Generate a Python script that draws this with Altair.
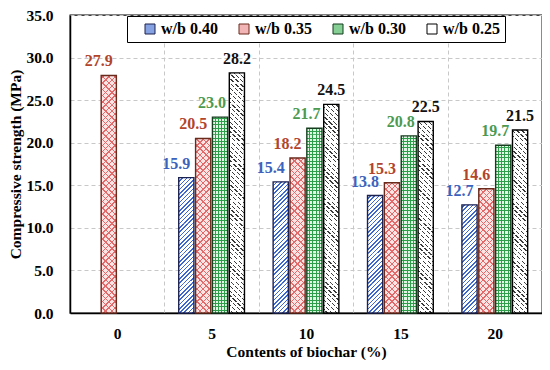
import altair as alt
import pandas as pd
import math

# ---------------- data ----------------
cats = ["0", "5", "10", "15", "20"]
series = ["w/b 0.40", "w/b 0.35", "w/b 0.30", "w/b 0.25"]
v040 = [None, 15.9, 15.4, 13.8, 12.7]
v035 = [27.9, 20.5, 18.2, 15.3, 14.6]
v030 = [None, 23.0, 21.7, 20.8, 19.7]
v025 = [None, 28.2, 24.5, 22.5, 21.5]

rows = []
for s, vals in zip(series, [v040, v035, v030, v025]):
    for c, v in zip(cats, vals):
        if v is not None:
            rows.append({"cat": c, "series": s, "value": v})
df = pd.DataFrame(rows)

# ---------------- approximate plot geometry (for the hatch fills only) ----------------
TOTAL_W, TOTAL_H = 534, 352
W_PLOT, H_PLOT = 470, 297
YMAX = 35
PI, PO = 0.1, 0.85
band = W_PLOT / len(cats)
step = band / (len(series) - PI + 2 * PO)
BAR_W = step * (1 - PI)
SEG = 3.5  # value units per hatch segment (keeps gradients short)

# split each bar into short pieces, each gets its own hatch gradient
seg_rows = []
sid = 0
for r in rows:
    lo = 0.0
    while lo < r["value"] - 1e-9:
        hi = min(lo + SEG, r["value"])
        seg_rows.append({"cat": r["cat"], "series": r["series"], "lo": lo, "hi": hi, "sid": sid})
        sid += 1
        lo = hi
seg_df = pd.DataFrame(seg_rows)

FONT = "Liberation Serif"

line_col = {"w/b 0.40": "#3b67cf", "w/b 0.35": "#e26a6a", "w/b 0.30": "#2f9e4a", "w/b 0.25": "#3a3a3a"}
bg_col = {"w/b 0.40": "#ffffff", "w/b 0.35": "#fde4e4", "w/b 0.30": "#e2f6e6", "w/b 0.25": "#ffffff"}
border_col = ["#1c2250", "#6a2a1c", "#153d1e", "#000000"]
legend_fill = ["#86a2e2", "#f2b4b4", "#86cf94", "#ffffff"]
label_col = {"w/b 0.40": "#3b63bd", "w/b 0.35": "#b2442c", "w/b 0.30": "#4c9a50", "w/b 0.25": "#111111"}
label_dx = {"w/b 0.40": -10, "w/b 0.35": -10, "w/b 0.30": -8, "w/b 0.25": 0}
CLEAR = "rgba(255,255,255,0)"


def make_stops(total, starts, lw, line, bg):
    stops = [{"offset": 0, "color": bg}]
    for s in starts:
        a, b = max(s, 0.0), min(s + lw, total)
        if b <= a:
            continue
        a, b = a / total, b / total
        stops += [{"offset": a, "color": bg}, {"offset": a, "color": line},
                  {"offset": b, "color": line}, {"offset": b, "color": bg}]
    stops.append({"offset": 1, "color": bg})
    return stops


def line_starts(total, period, y0):
    k = math.floor(y0 / period)
    s = k * period - y0
    out = []
    while s < total:
        out.append(s)
        s += period
    return out


def diag(hs, y0, direction, period, lw, line, bg):
    w = BAR_W
    d = w * w + hs * hs
    x2 = (w + hs) * w / d
    y2 = (w + hs) * hs / d
    total = w + hs
    pd_, ld = period * math.sqrt(2), lw * math.sqrt(2)
    stops = make_stops(total, line_starts(total, pd_, y0), ld, line, bg)
    if direction == "/":
        return {"gradient": "linear", "x1": 0, "y1": 0, "x2": x2, "y2": y2, "stops": stops}
    return {"gradient": "linear", "x1": 1, "y1": 0, "x2": 1 - x2, "y2": y2, "stops": stops}


def vert(period, lw, line, bg):
    return {"gradient": "linear", "x1": 0, "y1": 0, "x2": 1, "y2": 0,
            "stops": make_stops(BAR_W, line_starts(BAR_W, period, 1.2), lw, line, bg)}


def horiz(hs, y0, period, lw, line, bg):
    return {"gradient": "linear", "x1": 0, "y1": 0, "x2": 0, "y2": 1,
            "stops": make_stops(hs, line_starts(hs, period, y0), lw, line, bg)}


def hatch_layers_for(s):
    L = line_col[s]
    if s == "w/b 0.40":
        return [lambda hs, y0: diag(hs, y0, "/", 3.0, 1.1, L, CLEAR)]
    if s == "w/b 0.35":
        return [lambda hs, y0: diag(hs, y0, "/", 4.4, 1.0, L, CLEAR),
                lambda hs, y0: diag(hs, y0, "\\", 4.4, 1.0, L, CLEAR)]
    if s == "w/b 0.30":
        return [lambda hs, y0: vert(3.3, 1.0, L, CLEAR),
                lambda hs, y0: horiz(hs, y0, 3.3, 1.0, L, CLEAR)]
    return [lambda hs, y0: diag(hs, y0, "\\", 3.4, 0.9, L, CLEAR),
            lambda hs, y0: horiz(hs, y0, 4.2, 1.1, "#ffffff", CLEAR)]


# ---------------- encodings ----------------
x_enc = alt.X("cat:N", sort=cats,
              scale=alt.Scale(domain=cats, paddingInner=0, paddingOuter=0),
              axis=alt.Axis(title="Contents of biochar (%)", labelAngle=0, tickBand="extent",
                            grid=True, gridDash=[4, 3], gridColor="#c8c8c8", ticks=False,
                            labelPadding=13, titlePadding=3))
xo_enc = alt.XOffset("series:N", sort=series,
                     scale=alt.Scale(domain=series, paddingInner=PI, paddingOuter=PO))
y_enc = alt.Y("value:Q", scale=alt.Scale(domain=[0, YMAX]),
              axis=alt.Axis(title="Compressive strength (MPa)", values=list(range(0, 36, 5)),
                            format=".1f", grid=True, gridDash=[4, 3], gridColor="#c8c8c8",
                            ticks=False, labelPadding=17, titlePadding=2))
ylo = alt.Y("lo:Q", scale=alt.Scale(domain=[0, YMAX]))
yhi = alt.Y2("hi:Q")

base = alt.Chart(df)
segs = alt.Chart(seg_df)

layers = [
    # legend carrier
    base.mark_bar().encode(
        x=x_enc, xOffset=xo_enc, y=y_enc,
        fill=alt.Fill("series:N", sort=series,
                      scale=alt.Scale(domain=series, range=legend_fill),
                      legend=alt.Legend(title=None, orient="none", direction="horizontal",
                                        legendX=57, legendY=1, symbolType="square",
                                        symbolSize=100, symbolStrokeColor="#000000",
                                        symbolStrokeWidth=1, symbolOffset=10,
                                        labelFont=FONT, labelFontSize=16,
                                        labelFontWeight="bold", labelColor="#000000",
                                        columnPadding=8, labelOffset=3, padding=5,
                                        strokeColor="#000000", fillColor="#ffffff",
                                        labelLimit=200))
    )
]

# background colour of every bar
for s in series:
    layers.append(
        base.transform_filter(f"datum.series == '{s}'").mark_bar(fill=bg_col[s]).encode(
            x=x_enc, xOffset=xo_enc, y=y_enc)
    )

for s in series:
    sub = [sr for sr in seg_rows if sr["series"] == s]
    for fn in hatch_layers_for(s):
        conds = []
        for sr in sub:
            hs = (sr["hi"] - sr["lo"]) / YMAX * H_PLOT
            y0 = (YMAX - sr["hi"]) / YMAX * H_PLOT
            conds.append({"test": f"datum.sid == {sr['sid']}", "value": fn(hs, y0)})
        layers.append(
            segs.transform_filter(f"datum.series == '{s}'").mark_bar().encode(
                x=x_enc, xOffset=xo_enc, y=ylo, y2=yhi,
                fill={"condition": conds, "value": CLEAR})
        )

layers.append(
    base.mark_bar(fillOpacity=0, strokeWidth=1.4).encode(
        x=x_enc, xOffset=xo_enc, y=y_enc,
        stroke=alt.Stroke("series:N", sort=series,
                          scale=alt.Scale(domain=series, range=border_col), legend=None))
)

for s in series:
    layers.append(
        base.transform_filter(f"datum.series == '{s}'").mark_text(
            dx=label_dx[s], dy=-14, font=FONT, fontSize=16, fontWeight="bold",
            color=label_col[s], baseline="middle"
        ).encode(x=x_enc, xOffset=xo_enc, y=y_enc, text=alt.Text("value:Q", format=".1f"))
    )

chart = alt.layer(*layers).properties(
    width=TOTAL_W, height=TOTAL_H, padding=0,
    autosize=alt.AutoSizeParams(type="fit", contains="padding")
).configure_view(
    stroke="#000000", strokeWidth=1.3
).configure_axis(
    labelFont=FONT, labelFontSize=15.5, labelFontWeight="bold", labelColor="#000000",
    titleFont=FONT, titleFontSize=15.5, titleFontWeight="bold", titleColor="#000000",
    domainColor="#000000", domainWidth=1.5
)

chart.save("out.html", embed_options={"renderer": "svg", "actions": False})
